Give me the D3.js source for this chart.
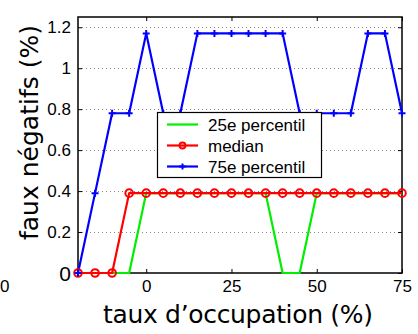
<!DOCTYPE html>
<html><head><meta charset="utf-8">
<script src="https://cdn.jsdelivr.net/npm/d3@7"></script>
<style>body{margin:0;background:#fff}svg{display:block}</style>
</head><body>
<script>
const xValues = [-20,-15,-10,-5,0,5,10,15,20,25,30,35,40,45,50,55,60,65,70,75];
const p25 = [0,0,0,0,0.39,0.39,0.39,0.39,0.39,0.39,0.39,0.39,0,0,0.39,0.39,0.39,0.39,0.39,0.39];
const median = [0,0,0,0.39,0.39,0.39,0.39,0.39,0.39,0.39,0.39,0.39,0.39,0.39,0.39,0.39,0.39,0.39,0.39,0.39];
const p75 = [0,0.39,0.78,0.78,1.17,0.78,0.78,1.17,1.17,1.17,1.17,1.17,1.17,0.78,0.78,0.78,0.78,1.17,1.17,0.78];
const xTicks = [0,25,50,75];
const yTicks = [0,0.2,0.4,0.6,0.8,1,1.2];
const yTickLabels = ["0","0.2","0.4","0.6","0.8","1","1.2"];
const seriesNames = ["25e percentil","median","75e percentil"];
const seriesColors = ["#00ee00","#ff0000","#0000ff"];

const W=418,H=334;
const L=78,R=402,T=17,B=273;
const svg=d3.select("body").append("svg").attr("width",W).attr("height",H);
const x=d3.scaleLinear().domain([-20,75]).range([L,R]);
const y=d3.scaleLinear().domain([0,1.25]).range([B,T]);

// grid
svg.append("g").selectAll("line").data(yTicks.filter(d=>d>0)).join("line")
  .attr("x1",L).attr("x2",R).attr("y1",d=>Math.round(y(d))+0.5).attr("y2",d=>Math.round(y(d))+0.5)
  .attr("stroke","#888").attr("stroke-width",1).attr("stroke-dasharray","1,3");

// axes ticks (inward)
const tickF="Liberation Sans, Arial, sans-serif";
const bx=d3.axisBottom(x).tickValues(xTicks).tickSize(-4).tickPadding(7).tickFormat(d3.format("d"));
const gb=svg.append("g").attr("transform",`translate(0,${B})`).call(bx);
const tx=d3.axisTop(x).tickValues(xTicks).tickSize(-4).tickFormat("");
const gt=svg.append("g").attr("transform",`translate(0,${T})`).call(tx);
const ly=d3.axisLeft(y).tickValues(yTicks).tickSize(-4).tickPadding(7).tickFormat((d,i)=>yTickLabels[i]);
const gl=svg.append("g").attr("transform",`translate(${L},0)`).call(ly);
const ry=d3.axisRight(y).tickValues(yTicks).tickSize(-4).tickFormat("");
const gr=svg.append("g").attr("transform",`translate(${R},0)`).call(ry);
[gb,gt,gl,gr].forEach(g=>{
  g.select(".domain").remove();
  g.selectAll("line").attr("stroke","#000");
  g.selectAll("text").attr("font-family",tickF).attr("font-size",17).attr("fill","#000");
});
gl.selectAll("text").filter(d=>d===0).attr("font-size",21).attr("dy","0.36em");
// box
svg.append("rect").attr("x",L).attr("y",T).attr("width",R-L).attr("height",B-T)
  .attr("fill","none").attr("stroke","#000").attr("stroke-width",1.5);
// stray label at far left
svg.append("text").attr("x",0).attr("y",292).attr("text-anchor","start")
  .attr("font-family",tickF).attr("font-size",17).text("0");

// series
const allSeries=[p25,median,p75];
const line=d3.line().x((d,i)=>x(xValues[i])).y(d=>y(d));
allSeries.forEach((s,k)=>{
  svg.append("path").datum(s).attr("d",line).attr("fill","none")
    .attr("stroke",seriesColors[k]).attr("stroke-width",2.2).attr("stroke-linejoin","round");
});
// median circles
svg.append("g").selectAll("circle").data(median).join("circle")
  .attr("cx",(d,i)=>x(xValues[i])).attr("cy",d=>y(d)).attr("r",3.8)
  .attr("fill","none").attr("stroke","#ff0000").attr("stroke-width",2);
// p75 plus markers
svg.append("g").selectAll("path").data(p75).join("path")
  .attr("d",(d,i)=>{const cx=x(xValues[i]),cy=y(d);return `M${cx-3.5},${cy}H${cx+3.5}M${cx},${cy-3.5}V${cy+3.5}`;})
  .attr("stroke","#0000ff").attr("stroke-width",2);

// legend
const lg=svg.append("g");
lg.append("rect").attr("x",157.5).attr("y",112.5).attr("width",164).attr("height",65)
  .attr("fill","#fff").attr("stroke","#000").attr("stroke-width",1.2);
const rowY=[124.5,145.5,166.5];
seriesNames.forEach((n,k)=>{
  lg.append("line").attr("x1",167).attr("x2",198).attr("y1",rowY[k]).attr("y2",rowY[k])
    .attr("stroke",seriesColors[k]).attr("stroke-width",2.2);
  if(k===1) lg.append("circle").attr("cx",182.5).attr("cy",rowY[k]).attr("r",3)
    .attr("fill","none").attr("stroke","#ff0000").attr("stroke-width",1.8);
  if(k===2) lg.append("path").attr("d",`M179,${rowY[k]}H186M182.5,${rowY[k]-3}V${rowY[k]+3}`)
    .attr("stroke","#0000ff").attr("stroke-width",2);
  lg.append("text").attr("x",208).attr("y",rowY[k]).attr("dy","0.36em")
    .attr("font-family",tickF).attr("font-size",17).text(n);
});

// axis titles
const titleF="DejaVu Sans, sans-serif";
svg.append("text").attr("x",103).attr("y",323).attr("font-family",titleF).attr("font-size",25)
  .attr("textLength",270).attr("lengthAdjust","spacing").text("taux d’occupation (%)");
svg.append("text").attr("transform","translate(38,240) rotate(-90)").attr("font-family",titleF).attr("font-size",25)
  .attr("textLength",215).attr("lengthAdjust","spacing").text("faux négatifs (%)");
</script>
</body></html>
